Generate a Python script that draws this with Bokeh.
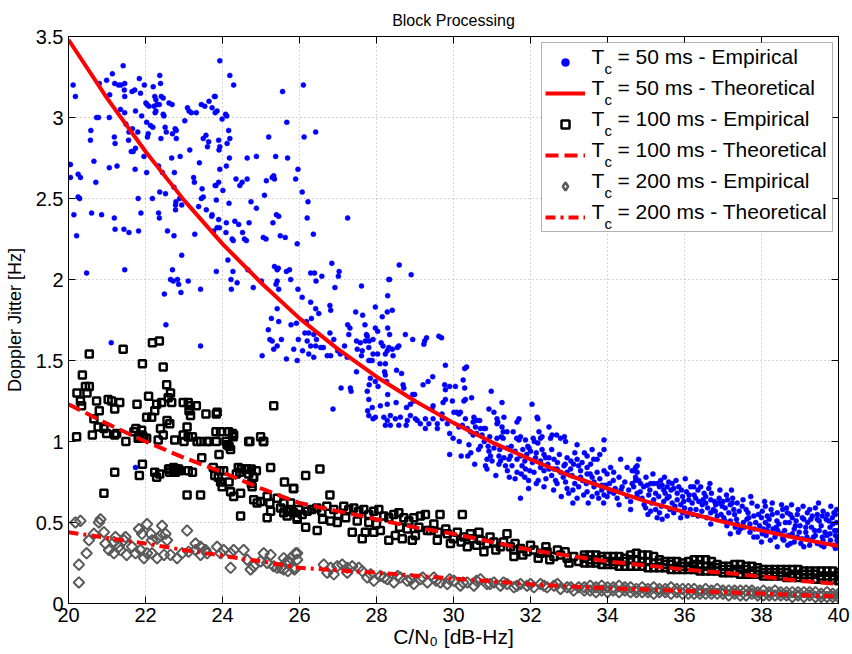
from bokeh.plotting import figure
from bokeh.models import (LinearAxis, FixedTicker, Legend, LegendItem, Label, Range1d, BoxAnnotation)
from bokeh.embed import file_html
from bokeh.resources import INLINE
import math

FONT = "Liberation Sans"

title_text = "Block Processing"
x_label = "C/N\u2080 [dB-Hz]"
y_label = "Doppler Jitter [Hz]"
x_ticks = [20, 22, 24, 26, 28, 30, 32, 34, 36, 38, 40]
y_ticks = [0, 0.5, 1, 1.5, 2, 2.5, 3, 3.5]
y_tick_labels = ["0", "0.5", "1", "1.5", "2", "2.5", "3", "3.5"]
legend_labels = ["= 50 ms - Empirical", "= 50 ms - Theoretical",
                 "= 100 ms - Empirical", "= 100 ms - Theoretical",
                 "= 200 ms - Empirical", "= 200 ms - Theoretical"]

# theoretical curves (read at integer C/N0)
theory_x = [20, 21, 22, 23, 24, 25, 26, 27, 28, 29, 30, 31, 32, 33, 34, 35, 36, 37, 38, 39, 40]
theory_50 = [3.48, 3.12, 2.79, 2.49, 2.22, 1.98, 1.76, 1.57, 1.40, 1.25, 1.115, 0.995, 0.89, 0.79,
             0.71, 0.63, 0.565, 0.505, 0.45, 0.40, 0.355]
theory_100 = [1.23, 1.11, 1.00, 0.90, 0.81, 0.71, 0.62, 0.57, 0.52, 0.47, 0.43, 0.38, 0.33, 0.295,
              0.26, 0.235, 0.21, 0.19, 0.166, 0.14, 0.12]
theory_200 = [0.44, 0.405, 0.37, 0.33, 0.295, 0.26, 0.22, 0.205, 0.19, 0.172, 0.154, 0.137, 0.119,
              0.106, 0.094, 0.086, 0.078, 0.07, 0.061, 0.052, 0.043]

# empirical, Tc = 50 ms
emp50 = [
(20.12,3.20),(20.18,3.13),(21.42,3.32),(21.14,3.27),(20.99,3.23),(20.80,3.21),(21.20,3.21),(21.30,3.20),
(21.36,3.20),(21.46,3.21),(21.07,3.14),(21.45,3.17),(21.65,3.16),(21.72,3.17),(21.87,3.15),(21.84,3.24),
(21.97,3.20),(21.46,3.13),(21.35,3.05),(21.46,3.03),(21.74,3.04),(21.90,3.01),(20.73,3.00),(20.78,3.00),
(21.06,3.00),(20.58,2.92),(20.57,2.86),(21.19,2.88),(21.21,2.84),(21.49,2.96),(21.66,2.93),(21.57,2.91),
(21.56,2.86),(21.80,2.91),(21.63,2.79),(21.68,2.79),(21.74,2.81),(22.03,2.97),(22.07,2.90),(22.05,2.88),
(22.13,2.95),(22.19,2.94),(22.40,2.87),(22.51,2.94),(22.54,2.91),(22.70,2.90),(22.80,2.92),(22.80,2.87),
(22.68,2.75),(22.90,2.76),(23.15,2.80),(23.40,2.72),(23.50,2.87),(23.57,2.89),(23.64,2.85),(23.61,2.82),
(23.25,2.63),(23.27,2.60),(23.47,2.56),(23.45,2.50),(23.50,2.51),(23.81,2.58),(23.38,2.45),(23.58,2.43),
(23.72,2.39),(23.28,2.28),(23.77,2.30),(20.05,2.71),(20.02,2.71),(20.05,2.63),(20.25,2.65),(20.31,2.63),
(20.25,2.51),(20.29,2.50),(20.14,2.40),(20.21,2.27),(20.47,2.04),(20.60,2.41),(20.86,2.40),(20.66,2.73),
(20.71,2.60),(21.06,2.69),(21.26,2.70),(21.19,2.38),(21.21,2.31),(21.44,2.31),(21.57,2.29),(21.46,2.06),
(21.82,2.30),(21.81,2.50),(21.88,2.41),(21.73,2.68),(21.96,2.76),(22.03,2.66),(22.18,2.50),(22.34,2.70),
(22.44,2.66),(22.34,2.41),(22.36,2.38),(22.37,2.54),(22.52,2.53),(22.75,2.66),(22.74,2.57),(22.79,2.48),
(22.78,2.46),(22.89,2.50),(22.94,2.46),(22.78,2.43),(22.57,2.30),(22.74,2.27),(22.94,2.15),(22.70,2.06),
(22.65,2.00),(22.72,1.99),(22.83,2.00),(22.86,1.97),(23.11,1.99),(22.92,1.92),(22.49,1.91),(23.43,1.94),
(23.09,3.06),(23.13,3.04),(23.19,3.03),(23.32,3.03),(23.45,3.08),(23.54,3.07),(23.65,3.10),(23.73,3.06),
(23.81,3.13),(23.81,3.03),(23.02,2.98),(22.77,2.93),(22.61,3.09),(22.69,3.08),(22.24,3.13),(22.27,3.11),
(22.36,3.08),(22.41,3.13),(22.46,3.12),(22.37,3.26),(22.39,3.21),(22.20,3.19),(22.22,3.07),(22.25,3.03),
(22.27,3.04),(22.30,3.08),(22.46,3.02),(22.48,3.01),(22.01,3.09),(22.04,3.08),(22.09,3.07),
(23.93,3.35),(24.19,3.26),(24.29,3.20),(23.79,3.13),(23.86,3.04),(24.08,3.02),(24.11,3.01),(23.99,2.99),
(24.16,2.92),(24.19,2.87),(23.90,2.86),(24.12,2.84),(23.93,2.82),(23.91,2.80),(24.18,2.75),(24.64,2.75),
(24.88,2.76),(25.38,2.76),(25.69,2.75),(25.20,2.88),(25.67,2.97),(25.56,3.16),(26.10,3.20),(26.12,2.88),
(26.42,2.91),(23.93,2.68),(24.10,2.70),(23.83,2.58),(23.90,2.60),(24.01,2.55),(24.35,2.62),(24.45,2.58),
(24.51,2.60),(24.64,2.62),(25.14,2.61),(25.29,2.63),(25.33,2.64),(25.35,2.62),(25.90,2.62),(25.96,2.68),
(26.07,2.54),(23.84,2.49),(24.17,2.47),(24.74,2.48),(25.09,2.52),(24.88,2.44),(26.22,2.48),(27.25,2.38),
(25.40,2.40),(25.46,2.39),(25.31,2.35),(24.69,2.35),(24.32,2.36),(24.42,2.34),(24.10,2.35),(23.90,2.37),
(23.73,2.40),(23.86,2.32),(23.92,2.32),(24.09,2.29),(24.52,2.29),(24.25,2.25),(24.28,2.24),(24.57,2.25),
(24.62,2.24),(25.06,2.26),(25.13,2.25),(25.50,2.27),(25.63,2.26),(26.36,2.28),(26.20,2.38),(25.94,2.22),
(24.14,2.12),(24.27,2.05),(24.66,2.06),(24.22,2.00),(24.38,1.98),(23.84,2.05),(25.35,2.08),(25.42,2.06),
(25.45,2.07),(25.66,2.05),(25.74,2.06),(25.77,2.00),(25.42,1.99),(25.39,1.97),(25.01,1.99),(24.80,1.95),
(25.46,1.94),(25.96,1.94),(26.29,2.04),(26.39,2.04),(26.58,2.02),(26.43,1.99),(26.84,2.10),(27.03,2.05),
(27.01,2.02),(26.92,1.95),(24.23,1.94),
(27.61,1.96),(28.32,2.00),(28.34,2.00),(28.59,2.09),(28.90,2.03),(28.29,1.90),(26.07,1.89),(26.29,1.86),
(26.42,1.82),(26.50,1.79),(26.79,1.84),(26.81,1.81),(25.42,1.82),(25.27,1.76),(25.46,1.74),(25.78,1.72),
(25.19,1.69),(25.23,1.63),(25.29,1.62),(25.53,1.63),(25.42,1.59),(25.33,1.57),(25.03,1.53),(25.66,1.51),
(25.94,1.50),(25.85,1.57),(26.08,1.56),(25.97,1.63),(25.92,1.73),(26.18,1.74),(26.31,1.76),(26.14,1.67),
(26.24,1.67),(26.37,1.66),(26.44,1.63),(26.20,1.62),(26.29,1.59),(26.42,1.59),(26.55,1.58),(26.62,1.58),
(26.24,1.54),(26.37,1.52),(26.72,1.53),(26.81,1.53),(26.79,1.67),(26.89,1.63),(26.99,1.56),(27.06,1.54),
(27.24,1.52),(27.17,1.59),(27.28,1.66),(27.25,1.72),(27.31,1.70),(27.46,1.80),(27.64,1.78),(27.70,1.72),
(27.74,1.66),(27.76,1.65),(27.48,1.62),(27.58,1.61),(27.71,1.62),(27.81,1.62),(27.91,1.63),(27.50,1.57),
(27.63,1.56),(27.80,1.58),(27.91,1.54),(27.61,1.53),(27.80,1.50),(27.89,1.50),(27.48,1.43),(27.97,1.83),
(28.15,1.77),(28.28,1.80),(28.41,1.81),(27.97,1.70),(28.03,1.68),(28.29,1.70),(28.12,1.61),(28.17,1.59),
(28.28,1.56),(28.32,1.58),(28.41,1.57),(28.54,1.58),(28.58,1.59),(28.34,1.66),(28.75,1.66),(28.94,1.63),
(29.25,1.62),(29.30,1.64),(29.62,1.65),(29.69,1.64),(29.23,1.60),(28.03,1.54),(28.23,1.54),(28.43,1.53),
(27.85,1.50),(28.09,1.48),(28.23,1.48),(28.21,1.43),(28.52,1.44),(28.65,1.42),(27.84,1.39),(27.97,1.37),
(28.23,1.41),(28.26,1.37),(28.04,1.34),(27.81,1.35),(27.76,1.31),(27.80,1.26),(27.08,1.33),(27.32,1.33),
(27.34,1.31),(26.87,1.20),(28.29,1.29),(28.51,1.24),(28.69,1.35),(28.71,1.33),(28.94,1.29),(28.99,1.29),
(29.21,1.35),(29.34,1.37),(29.46,1.40),(29.77,1.35),(29.90,1.34),(29.79,1.32),(29.79,1.47),(29.47,1.22),
(29.44,1.20),(29.70,1.17),(29.79,1.26),(28.10,1.22),(28.28,1.23),(27.77,1.19),(27.89,1.21),(27.80,1.16),
(27.91,1.14),(27.97,1.15),(28.19,1.15),(28.28,1.13),(28.36,1.16),(28.49,1.14),(28.62,1.15),(28.80,1.13),
(28.88,1.16),(29.01,1.14),(28.23,1.10),(28.36,1.10),(28.58,1.10),(28.77,1.10),(29.06,1.13),(29.14,1.11),
(29.27,1.14),(29.36,1.11),(29.47,1.14),(29.58,1.11),(29.71,1.14),(29.84,1.11),(29.27,1.08),(29.58,1.08),
(28.78,1.21),(28.88,1.23),(28.97,1.25),
(21.11,1.61),(21.74,0.84),(22.53,1.72),(23.43,1.59),
(30.25,1.38),(30.29,1.45),(30.34,1.46),(30.05,1.34),(30.29,1.33),(30.98,1.31),(29.73,1.24),(29.97,1.25),
(30.27,1.25),(30.31,1.26),(30.47,1.27),(31.26,1.24),(32.04,1.23),(30.01,1.18),(30.08,1.18),(30.14,1.17),
(30.18,1.18),(30.92,1.20),(31.05,1.18),(30.31,1.14),(30.53,1.15),(30.60,1.13),(30.68,1.13),(31.13,1.14),
(31.31,1.15),(31.15,1.12),(31.70,1.14),(31.65,1.12),(32.17,1.15),(32.19,1.14),(30.23,1.10),(30.36,1.08),
(30.51,1.12),(30.57,1.09),(30.70,1.08),(30.79,1.08),(30.83,1.08),(29.90,1.05),(29.99,1.02),(30.14,1.09),
(30.44,1.06),(30.51,1.04),(30.60,1.05),(30.74,1.04),(30.94,1.03),(31.13,1.11),(31.26,1.09),(31.29,1.06),
(31.39,1.06),(31.55,1.06),(31.13,1.02),(31.24,1.03),(31.29,1.02),(31.64,1.02),(31.70,1.01),(31.74,1.03),
(31.87,1.01),(31.93,0.97),(32.07,1.02),(32.10,1.00),(32.19,0.99),(32.26,1.02),(32.22,1.06),(32.30,1.03),
(32.48,1.09),(32.52,1.02),(32.56,1.04),(32.68,1.04),(32.78,1.02),(32.88,1.03),(32.91,1.00),(33.21,0.98),
(33.91,1.01),(33.91,0.95),(29.90,0.92),(30.20,0.91),(30.37,0.91),(30.87,0.89),(30.92,0.94),(30.96,0.91),
(30.83,0.85),(30.87,0.83),(31.00,0.88),(31.18,0.91),(31.22,0.88),(31.31,0.90),(31.44,0.89),(31.48,0.91),
(31.18,0.86),(31.35,0.85),(31.52,0.85),(31.65,0.89),(31.74,0.91),(31.90,0.92),(31.96,0.96),(32.00,0.94),
(31.78,0.85),(31.87,0.83),(31.98,0.82),(32.09,0.81),(31.65,0.81),(31.76,0.80),(32.13,0.90),(32.26,0.88),
(32.35,0.92),(32.39,0.90),(32.48,0.90),(32.61,0.89),(32.26,0.84),(32.35,0.82),(32.48,0.83),(32.61,0.83),
(32.69,0.83),(32.78,0.81),(32.87,0.85),(32.65,0.76),(32.69,0.74),(32.91,0.75),(32.95,0.81),(33.04,0.83),
(33.12,0.86),(33.25,0.85),(33.34,0.87),(33.47,0.84),(33.56,0.86),(33.21,0.89),(33.47,0.91),(33.64,0.89),
(33.73,0.89),(33.08,0.79),(33.30,0.78),(33.47,0.80),(33.60,0.78),(33.73,0.81),(33.91,0.82),(33.99,0.80),
(34.08,0.84),(34.16,0.81),(32.95,0.71),(32.99,0.68),(33.21,0.65),(33.38,0.67),(33.47,0.69),(33.60,0.66),
(33.73,0.68),(33.77,0.65),(33.91,0.67),(33.99,0.66),(34.16,0.68),(34.25,0.65),(34.38,0.72),(34.51,0.66),
(34.68,0.72),(34.77,0.68),(34.34,0.89),(34.51,0.84),(34.64,0.82),(34.77,0.85),(34.73,0.78),(34.81,0.76),
(31.74,0.65),
(34.81,0.89),(34.73,0.84),(34.70,0.82),(34.77,0.81),(34.64,0.74),(34.73,0.76),(34.86,0.74),(34.94,0.72),
(35.03,0.73),(35.12,0.74),(35.20,0.74),(35.29,0.74),(35.38,0.76),(35.42,0.73),(35.46,0.70),(35.55,0.72),
(35.59,0.75),(35.68,0.74),(35.72,0.71),(35.81,0.68),(34.77,0.66),(34.90,0.65),(35.07,0.67),(35.20,0.64),
(35.33,0.66),(35.46,0.63),(35.55,0.65),(35.68,0.62),(35.81,0.64),(35.90,0.61),(35.98,0.63),(36.11,0.64),
(36.20,0.62),(36.29,0.65),(36.37,0.63),(36.46,0.61),(36.55,0.62),(36.68,0.64),(36.81,0.61),(36.89,0.62),
(36.98,0.60),(37.06,0.59),(37.19,0.61),(37.28,0.58),(37.37,0.62),(34.99,0.59),(35.12,0.57),(35.29,0.53),
(35.42,0.52),(35.55,0.54),(35.72,0.56),(35.90,0.53),(36.07,0.54),(36.16,0.72),(36.24,0.72),(36.42,0.72),
(36.51,0.68),(36.63,0.71),(37.09,0.67),(37.24,0.62),(36.68,0.56),(36.85,0.54),(37.02,0.53),(37.19,0.51),
(37.37,0.49),(37.53,0.50),(37.67,0.53),(37.80,0.54),(37.89,0.60),(38.02,0.57),(38.15,0.54),(38.28,0.55),
(38.41,0.56),(38.54,0.54),(38.67,0.56),(38.80,0.53),(38.93,0.55),(39.06,0.53),(39.19,0.56),(39.32,0.54),
(39.45,0.55),(39.58,0.54),(39.71,0.55),(39.84,0.53),(39.92,0.55),(36.68,0.49),(37.19,0.43),(37.45,0.46),
(37.80,0.41),(37.89,0.41),(38.02,0.43),(38.15,0.45),(38.23,0.39),(38.41,0.35),(38.58,0.39),(38.75,0.37),
(38.93,0.41),(39.10,0.35),(39.27,0.39),(39.45,0.37),(39.62,0.35),(39.79,0.39),(39.97,0.41),(40.00,0.37),
(37.55,0.47),(37.70,0.44),(37.95,0.48),(38.10,0.50),(38.30,0.46),(38.45,0.49),(38.60,0.45),(38.72,0.50),
(38.85,0.46),(39.00,0.48),(39.15,0.44),(39.30,0.47),(39.40,0.42),(39.55,0.48),(39.65,0.44),(39.78,0.47),
(39.90,0.45),(39.95,0.50),(38.20,0.52),(38.50,0.43),(38.90,0.51),(39.20,0.50),(39.50,0.51),(39.85,0.49),
(38.00,0.38),(38.35,0.41),(38.70,0.42),(39.05,0.40),(39.35,0.41),(39.70,0.42),(39.88,0.36),(37.30,0.55),
(37.60,0.58),(38.10,0.60),(38.65,0.59),(39.40,0.59),(39.80,0.60),(36.95,0.55),(37.10,0.48),(36.30,0.58),
(36.00,0.59),(35.60,0.66),(36.75,0.58),
(34.55,0.70),(34.60,0.63),(34.85,0.69),(34.95,0.61),(35.00,0.78),(35.10,0.70),(35.15,0.62),(35.25,0.68),
(35.35,0.72),(35.40,0.60),(35.50,0.68),(35.65,0.70),(35.75,0.60),(35.85,0.72),(35.95,0.66),(36.05,0.69),
(36.15,0.58),(36.25,0.67),(36.35,0.70),(36.45,0.57),(36.55,0.66),(36.60,0.59),(36.70,0.68),(36.80,0.57),
(36.90,0.65),(37.00,0.63),(37.15,0.56),(37.25,0.65),(37.35,0.52),(37.50,0.60),(37.65,0.56),(37.75,0.62),
(37.85,0.50),(38.00,0.53),(38.25,0.58),(38.40,0.51),(38.55,0.58),(38.75,0.55),(38.95,0.58),(39.10,0.52),
(39.25,0.58),(39.45,0.52),(39.60,0.57),(39.75,0.51),(39.95,0.58),(37.40,0.44),(37.70,0.49),(38.05,0.46),
(38.38,0.47),(38.80,0.43),(39.15,0.47),(39.50,0.45),(39.92,0.42),(38.55,0.40),(38.85,0.38),(39.25,0.36),
(39.60,0.39),(39.98,0.45),(36.35,0.54),(35.95,0.56),(35.25,0.58),(34.45,0.75),(34.30,0.78),(34.20,0.71),
(34.05,0.74),(33.85,0.73),(33.65,0.75),(33.45,0.74),(33.25,0.72),(33.10,0.70),
(30.40,0.98),(30.65,0.95),(30.80,1.00),(31.05,0.96),(31.40,0.96),(31.60,0.94),(31.85,0.88),(32.05,0.87),
(32.30,0.95),(32.55,0.95),(32.75,0.92),(32.95,0.90),(33.15,0.93),(33.40,0.93),(33.60,0.95),(33.80,0.92),
(32.40,0.77),(32.55,0.79),(32.85,0.78),(33.15,0.74),(33.35,0.76),(33.65,0.72),(33.85,0.70),(34.05,0.69),
(31.40,0.82),(31.60,0.77),(31.95,0.76),(32.20,0.76),(30.55,0.86),(31.10,0.79),(31.95,0.71),(32.35,0.72),
(35.05,0.55),(35.18,0.80),(35.35,0.56),(35.48,0.78),(35.62,0.58),(35.78,0.76),(35.92,0.70),(36.02,0.77),
(36.12,0.67),(36.22,0.55),(36.33,0.75),(36.48,0.64),(36.58,0.53),(36.66,0.74),(36.78,0.63),(36.92,0.70),
(37.05,0.51),(37.12,0.64),(37.22,0.70),(37.32,0.47),(37.42,0.57),(37.52,0.64),(37.62,0.52),(37.72,0.66),
(37.82,0.46),(37.92,0.55),(38.08,0.63),(38.18,0.48),(38.28,0.62),(38.42,0.45),(38.52,0.61),(38.62,0.50),
(38.78,0.61),(38.88,0.48),(38.98,0.44),(39.08,0.60),(39.18,0.41),(39.28,0.52),(39.38,0.45),(39.48,0.62),
(39.58,0.41),(39.68,0.52),(39.78,0.43),(39.88,0.56),(39.96,0.39),(38.12,0.42),(38.68,0.36),(39.02,0.37),
(39.55,0.36),(39.92,0.34),
(30.15,1.00),(30.45,0.93),(30.70,0.97),(30.90,0.97),(31.20,0.95),(31.50,0.97),(31.80,0.95),(32.15,0.93),
(32.45,0.86),(32.70,0.87),(32.90,0.86),(33.05,0.88),(33.30,0.82),(33.55,0.80),(33.80,0.77),(33.95,0.73),
(34.15,0.76),(34.35,0.70),(31.45,0.78),(31.85,0.78),(32.15,0.74),(32.60,0.70),(32.80,0.66),(33.10,0.62),
(33.50,0.62),(33.90,0.62),(34.30,0.61),(34.60,0.58),
]

# empirical, Tc = 100 ms
emp100 = [
(20.54,1.54),(21.42,1.57),(22.18,1.61),(22.36,1.62),(21.92,1.48),(22.46,1.46),(20.36,1.41),(20.22,1.30),
(20.48,1.30),(20.54,1.34),(22.55,1.35),(22.65,1.30),(22.59,1.27),(20.31,1.25),(20.34,1.22),(20.73,1.25),
(21.03,1.26),(21.12,1.25),(21.33,1.24),(21.20,1.20),(20.80,1.19),(21.78,1.23),(22.08,1.28),(22.29,1.23),
(22.42,1.24),(22.68,1.24),(22.24,1.19),(22.16,1.15),(22.03,1.15),(22.98,1.24),(23.11,1.24),(23.17,1.22),
(23.32,1.22),(23.17,1.16),(23.13,1.19),(23.57,1.17),(23.84,1.17),(20.66,1.14),(22.56,1.13),(22.63,1.11),
(20.77,1.09),(20.92,1.08),(20.21,1.03),(20.62,1.04),(20.99,1.05),(21.20,1.04),(21.25,1.05),(21.49,1.00),
(21.75,1.08),(21.90,1.07),(21.81,1.02),(21.94,1.03),(22.03,1.02),(22.39,1.08),(22.46,1.04),(22.33,1.01),
(22.76,1.01),(22.98,1.04),(23.11,1.03),(23.22,1.03),(23.00,1.00),(23.08,1.09),(23.65,1.00),(23.84,1.00),
(24.09,1.00),(24.26,1.05),(24.28,1.03),(23.83,1.06),(24.17,0.97),(24.21,0.95),(23.91,0.92),(24.71,1.00),
(24.99,1.03),(25.06,1.00),(23.46,0.90),(21.92,0.86),(21.20,0.81),(21.84,0.79),(22.24,0.81),(22.29,0.78),
(22.37,0.80),(22.63,0.83),(22.72,0.82),(22.81,0.83),(22.89,0.82),(22.63,0.81),(23.11,0.82),(23.22,0.81),
(23.76,0.84),(23.93,0.82),(23.80,0.79),(23.89,0.78),(24.17,0.75),(24.41,0.84),(24.49,0.83),(24.62,0.83),
(24.75,0.83),(24.88,0.82),(24.36,0.80),(24.45,0.81),(24.80,0.78),(24.75,0.74),(20.92,0.68),(23.08,0.67),
(23.43,0.67),(24.47,0.54),(23.95,0.75),(23.99,0.72),(24.21,0.69),(24.29,0.66),(24.47,0.68),(24.77,0.72),
(24.81,0.64),(24.90,0.62),(24.99,0.63),(25.16,0.66),(25.23,0.62),(25.42,0.65),(25.16,0.53),(25.25,0.57),
(25.25,0.84),(25.33,1.22),(25.51,0.59),(25.59,0.56),(25.68,0.54),(25.77,0.58),(25.85,0.56),(25.94,0.53),
(25.59,0.62),(25.77,0.62),(25.85,0.71),(24.64,0.83),(24.68,0.80),(24.81,0.78),(20.44,1.34),(21.70,1.06),
(21.83,1.03),(21.91,1.04),(21.96,1.02),(22.60,0.83),(22.73,0.84),(22.86,0.83),(22.78,0.81),(23.34,1.00),
(23.43,1.00),(23.60,1.00),(23.95,1.06),(23.86,1.18),(24.12,0.98),(24.16,1.06),(24.29,1.04),(24.03,0.82),
(24.68,1.00),(25.07,1.00),
(25.61,0.75),(25.84,0.71),(26.16,0.79),(26.53,0.83),(26.79,0.67),(25.72,0.57),(25.98,0.58),(26.07,0.55),
(26.20,0.57),(26.32,0.58),(26.45,0.59),(26.58,0.57),(26.71,0.60),(26.89,0.58),(27.15,0.60),(27.28,0.58),
(27.41,0.59),(27.54,0.57),(27.67,0.58),(27.80,0.55),(27.93,0.57),(28.06,0.58),(28.19,0.54),(28.32,0.53),
(28.45,0.55),(28.58,0.56),(28.71,0.53),(28.84,0.51),(28.97,0.53),(29.14,0.54),(29.27,0.55),(29.49,0.49),
(25.94,0.52),(26.16,0.47),(26.46,0.45),(26.81,0.51),(26.98,0.50),(27.37,0.44),(27.63,0.40),(27.71,0.44),
(27.93,0.44),(28.10,0.45),(28.32,0.39),(28.49,0.42),(28.67,0.40),(28.93,0.39),(29.01,0.42),(29.32,0.45),
(29.65,0.55),(30.23,0.55),(26.60,0.52),(27.00,0.55),(27.20,0.53),(27.50,0.51),(27.80,0.50),(28.00,0.49),
(28.60,0.47),(28.80,0.46),(29.10,0.47),(29.40,0.45),(29.60,0.44),(29.80,0.46),
(29.58,0.39),(29.84,0.43),(30.10,0.44),(30.27,0.41),(30.44,0.43),(30.66,0.44),(30.70,0.39),(30.87,0.37),
(31.05,0.38),(31.22,0.35),(31.39,0.43),(31.48,0.35),(31.57,0.33),(31.74,0.34),(31.91,0.32),(32.09,0.33),
(32.26,0.31),(32.43,0.32),(32.61,0.29),(32.78,0.30),(32.95,0.28),(33.12,0.29),(33.25,0.26),(29.92,0.37),
(30.36,0.35),(30.79,0.32),(31.57,0.29),(30.00,0.40),(30.20,0.38),(30.50,0.40),(30.60,0.36),(30.95,0.41),
(31.10,0.33),(31.30,0.38),(31.60,0.37),(31.80,0.30),(32.00,0.36),(32.20,0.28),(32.40,0.35),(32.50,0.27),
(32.70,0.33),(32.90,0.32),(33.00,0.25),
]
# dense band of Tc = 100 ms points at high C/N0 (x, upper, middle, lower)
band100_x = [33.4, 33.55, 33.7, 33.85, 34.0, 34.15, 34.3, 34.45, 34.6, 34.75, 34.9, 35.05, 35.2, 35.35,
             35.5, 35.65, 35.8, 35.95, 36.1, 36.25, 36.4, 36.55, 36.7, 36.85, 37.0, 37.15, 37.3, 37.45,
             37.6, 37.75, 37.9, 38.05, 38.2, 38.35, 38.5, 38.65, 38.8, 38.95, 39.1, 39.25, 39.4, 39.55,
             39.7, 39.85, 40.0]
band100_hi = [.30, .30, .30, .29, .29, .29, .29, .28, .30, .31, .30, .30, .29, .27, .26, .26, .26, .25,
              .26, .27, .27, .27, .26, .24, .23, .23, .24, .24, .23, .23, .22, .21, .21, .21, .21, .21,
              .21, .21, .20, .20, .20, .20, .20, .20, .19]
band100_mid = [.28, .27, .27, .27, .26, .26, .26, .26, .27, .27, .26, .26, .25, .25, .24, .24, .23, .23,
               .23, .24, .24, .23, .23, .22, .21, .21, .21, .21, .21, .20, .20, .19, .19, .19, .19, .19,
               .18, .18, .18, .18, .18, .17, .17, .17, .17]
band100_lo = [.25, .25, .25, .24, .24, .24, .23, .23, .23, .23, .23, .22, .22, .22, .22, .21, .21, .21,
              .21, .21, .20, .20, .20, .20, .19, .19, .19, .18, .18, .18, .18, .17, .17, .17, .17, .16,
              .16, .16, .16, .16, .15, .15, .15, .15, .14]

# empirical, Tc = 200 ms
emp200 = [
(20.18,0.50),(20.31,0.51),(20.27,0.24),(20.27,0.13),(20.47,0.31),(20.53,0.39),(20.66,0.43),(20.83,0.52),
(20.79,0.50),(20.92,0.44),(20.96,0.37),(21.05,0.33),(21.18,0.38),(21.22,0.41),(21.31,0.35),(21.44,0.39),
(21.48,0.41),(21.18,0.31),(21.35,0.33),(21.51,0.30),(21.65,0.35),(21.74,0.31),(21.87,0.33),(21.96,0.28),
(22.04,0.31),(21.83,0.46),(21.91,0.43),(22.04,0.49),(22.13,0.43),(22.17,0.39),(22.30,0.40),(22.39,0.42),
(22.43,0.48),(22.52,0.43),(22.56,0.39),(22.17,0.31),(22.30,0.28),(22.48,0.30),(22.65,0.30),(22.82,0.28),
(22.95,0.31),(23.12,0.32),(23.30,0.33),(23.43,0.30),(23.60,0.31),(23.08,0.45),(23.30,0.37),(23.43,0.35),
(23.56,0.33),(23.86,0.35),(23.95,0.31),(24.03,0.33),(24.21,0.31),(24.29,0.33),(24.21,0.22),(24.55,0.33),
(24.64,0.27),(24.73,0.21),(24.81,0.23),(24.99,0.26),(25.07,0.31),(25.16,0.25),(25.25,0.30),(25.33,0.23),
(25.42,0.22),(25.59,0.21),(25.68,0.26),(25.77,0.28),(25.85,0.22),(25.94,0.31),
(25.59,0.28),(25.72,0.26),(25.90,0.31),(25.94,0.27),(25.51,0.22),(25.70,0.20),(25.87,0.21),
(26.63,0.24),(26.81,0.22),(26.98,0.23),(27.11,0.24),(27.24,0.22),(27.37,0.23),(27.54,0.22),(27.63,0.20),
(26.72,0.19),(26.89,0.18),(27.24,0.19),
(27.76,0.16),(27.93,0.14),(28.10,0.17),(28.28,0.15),(28.45,0.13),(28.62,0.16),(28.80,0.14),(28.97,0.12),
(29.14,0.15),(29.32,0.13),(29.49,0.16),(29.66,0.13),(29.84,0.12),(30.01,0.14),(30.18,0.11),(30.36,0.13),
(30.53,0.11),(30.70,0.15),(30.87,0.12),(31.05,0.13),(31.22,0.11),(31.39,0.12),(31.57,0.10),(31.74,0.12),
(31.91,0.11),(32.09,0.10),(32.26,0.12),(32.43,0.10),(32.61,0.11),(32.78,0.09),(32.95,0.10),(33.12,0.08),
(33.25,0.10),
(27.85,0.18),(28.20,0.16),(28.55,0.17),(28.90,0.15),(29.20,0.16),(29.55,0.14),(29.90,0.15),(30.25,0.13),
(30.60,0.14),(30.95,0.12),(31.30,0.13),(31.65,0.11),(32.00,0.12),(32.35,0.11),(32.70,0.12),(33.05,0.10),
]
band200_x = band100_x
band200_hi = [.10, .11, .10, .11, .10, .10, .11, .10, .10, .09, .10, .09, .10, .09, .09, .10, .09, .09,
              .09, .09, .08, .09, .08, .09, .08, .08, .08, .08, .08, .08, .07, .08, .07, .08, .07, .07,
              .07, .07, .07, .07, .07, .06, .07, .06, .06]
band200_lo = [.08, .08, .07, .08, .07, .08, .07, .08, .07, .07, .07, .07, .06, .07, .07, .06, .07, .06,
              .06, .06, .06, .06, .06, .06, .06, .05, .06, .05, .05, .06, .05, .05, .05, .05, .05, .05,
              .04, .05, .04, .05, .04, .04, .04, .04, .04]

# ---- assemble point sets ----
e50_x = [a for a, b in emp50]
e50_y = [b for a, b in emp50]
e100_x = [a for a, b in emp100] + band100_x * 3
e100_y = [b for a, b in emp100] + band100_hi + band100_mid + band100_lo
e200_x = [a for a, b in emp200] + band200_x * 2
e200_y = [b for a, b in emp200] + band200_hi + band200_lo

# ---- layout constants (pixels) ----
FL, FT, FW, FH = 68, 36, 770, 567

p = figure(frame_width=FW, frame_height=FH, x_range=Range1d(20, 40), y_range=Range1d(0, 3.5),
           output_backend="svg", toolbar_location=None,
           min_border_left=FL, min_border_top=FT, min_border_right=852 - FL - FW,
           min_border_bottom=654 - FT - FH, background_fill_color="white",
           border_fill_color="white")

p.title.text = title_text
p.title.align = "center"
p.title.text_font = FONT
p.title.text_font_size = "16px"
p.title.text_font_style = "normal"
p.title.text_color = "black"
p.title.standoff = 15

p.outline_line_color = "black"
p.outline_line_width = 1

xt = FixedTicker(ticks=x_ticks)
yt = FixedTicker(ticks=y_ticks)

xa = p.xaxis[0]
ya = p.yaxis[0]
xa.ticker = xt
ya.ticker = yt
ya.major_label_overrides = {t: s for t, s in zip(y_ticks, y_tick_labels)}
xa.axis_label = x_label
ya.axis_label = y_label
for ax in (xa, ya):
    ax.major_tick_in = 7
    ax.major_tick_out = 0
    ax.minor_tick_line_color = None
    ax.axis_line_color = "black"
    ax.major_tick_line_color = "black"
    ax.major_label_text_font = FONT
    ax.major_label_text_font_size = "20px"
    ax.major_label_text_color = "black"
    ax.axis_label_text_font = FONT
    ax.axis_label_text_font_style = "normal"
    ax.axis_label_text_color = "black"
xa.axis_label_text_font_size = "21px"
ya.axis_label_text_font_size = "18px"
xa.major_label_standoff = 4
xa.axis_label_standoff = 0
ya.major_label_standoff = 5
ya.axis_label_standoff = 8

for loc, tk in (("above", xt), ("right", yt)):
    ax2 = LinearAxis(ticker=tk, major_tick_in=7, major_tick_out=0,
                     minor_tick_line_color=None, axis_line_color="black",
                     major_label_text_font_size="1px", major_label_text_color=None,
                     major_label_standoff=0)
    p.add_layout(ax2, loc)

p.xgrid.ticker = FixedTicker(ticks=x_ticks[1:-1])
p.ygrid.ticker = FixedTicker(ticks=y_ticks[1:-1])
for g in (p.xgrid[0], p.ygrid[0]):
    g.grid_line_color = "#a8a8a8"
    g.grid_line_dash = "1 3"
    g.grid_line_width = 1

RED = "#ff0000"
GREY = "#5a5a5a"
r1 = p.scatter(e50_x, e50_y, marker="circle", size=5, fill_color="#0000ff", line_color="#0000ff",
               line_width=0.5)
r2 = p.line(theory_x, theory_50, line_color=RED, line_width=4)
r3 = p.scatter(e100_x, e100_y, marker="square", size=7, fill_alpha=0, line_color="black",
               line_width=2.5)
r4 = p.line(theory_x, theory_100, line_color=RED, line_width=4, line_dash="13 6")
r5 = p.scatter(e200_x, e200_y, marker="square", size=7.5, angle=math.pi / 4, fill_alpha=0,
               line_color=GREY, line_width=2)
r6 = p.line(theory_x, theory_200, line_color=RED, line_width=4, line_dash="10 5 3 5")
# hidden duplicate of the 200 ms points, used only to draw a diamond legend key
r5_key = p.scatter(e200_x, e200_y, marker="diamond", size=10, fill_alpha=0, line_color=GREY,
                   line_width=2.5, visible=False)


def px2x(px):
    return 20 + (px - FL) * 20.0 / FW


def py2y(py):
    return (FT + FH - py) * 3.5 / FH


# legend: white box, glyph samples from a Legend, texts as labels (for the subscript c)
L_LEFT, L_TOP, L_W, L_H = 541, 42, 291, 189
box = BoxAnnotation(left=px2x(L_LEFT), right=px2x(L_LEFT + L_W), top=py2y(L_TOP),
                    bottom=py2y(L_TOP + L_H), fill_color="white", fill_alpha=1,
                    line_color="black", line_width=1, level="annotation")
p.add_layout(box)

items = [LegendItem(label=" ", renderers=[r]) for r in (r1, r2, r3, r4, r5_key, r6)]
legend = Legend(items=items, location=(L_LEFT + 4 - FL, FT + FH - (L_TOP + L_H)),
                glyph_width=40, glyph_height=20, label_height=28, label_width=230,
                label_standoff=5, padding=3, spacing=3, margin=0,
                border_line_color=None, background_fill_alpha=0,
                inactive_fill_alpha=0, click_policy="none",
                label_text_font_size="10px")
p.add_layout(legend)

for i, txt in enumerate(legend_labels):
    cy = L_TOP + 3 + 14 + 31 * i
    p.add_layout(Label(x=px2x(591), y=py2y(cy - 3), text="T", text_font=FONT,
                       text_font_size="21px", text_baseline="middle", text_color="black",
                       level="overlay"))
    p.add_layout(Label(x=px2x(604), y=py2y(cy + 9), text="c", text_font=FONT,
                       text_font_size="15px", text_baseline="middle", text_color="black",
                       level="overlay"))
    p.add_layout(Label(x=px2x(617), y=py2y(cy - 3), text=txt, text_font=FONT,
                       text_font_size="21px", text_baseline="middle", text_color="black",
                       level="overlay"))

open("out.html", "w").write(file_html(p, INLINE))
